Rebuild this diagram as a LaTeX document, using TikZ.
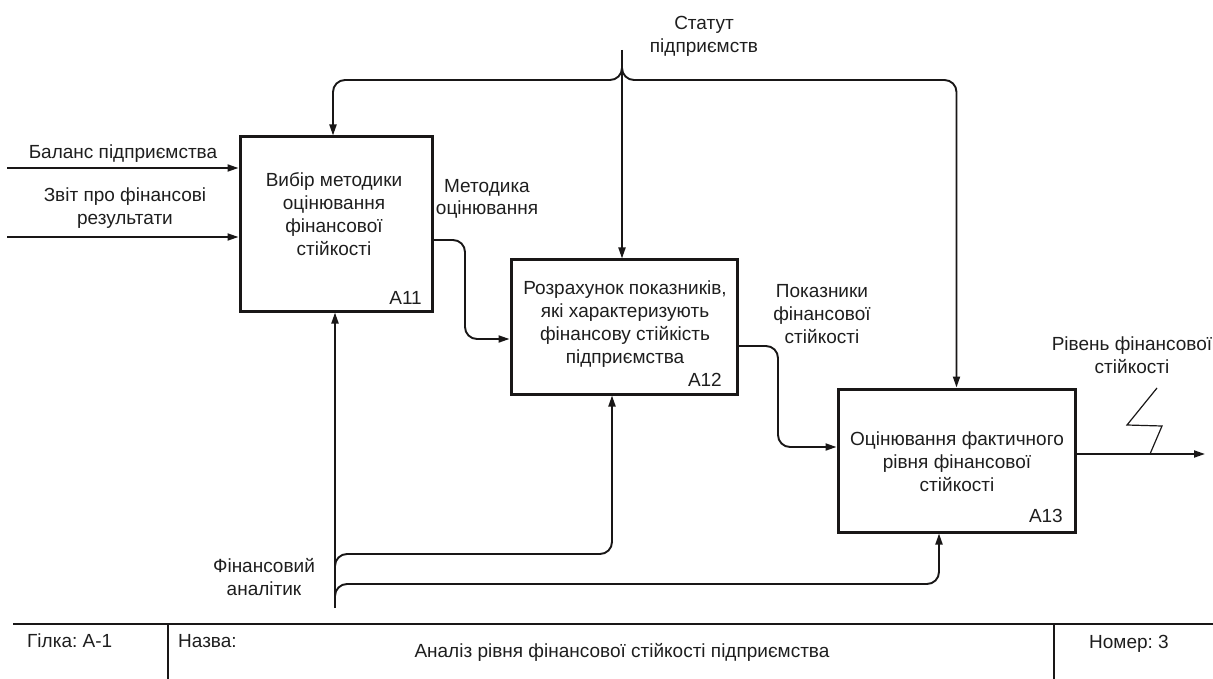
\documentclass[tikz,border=0pt]{standalone}
\usepackage{fontspec}
\setmainfont{Liberation Sans}
\usetikzlibrary{arrows.meta}
\definecolor{ink}{RGB}{25,23,23}
\definecolor{txt}{RGB}{30,30,30}
\newcommand{\lbfont}{\fontsize{19}{23}\selectfont\frenchspacing}
\begin{document}
\begin{tikzpicture}[x=1pt,y=-1pt,
  lbl/.style={font=\lbfont, align=center, inner sep=0pt, anchor=base, text=txt},
  tag/.style={font=\lbfont, inner sep=0pt, anchor=base east, text=txt},
  box/.style={draw=ink, line width=3pt, rectangle, inner sep=0pt},
  flow/.style={draw=ink, line width=1.9pt, rounded corners=12pt,
    -{Triangle[length=11pt,width=7pt]}},
  bolt/.style={draw=ink, line width=1.2pt},
  frame/.style={draw=ink, line width=2.4pt}]
\useasboundingbox (0,0) rectangle (1213,679);

% activity boxes
\node[box, minimum width=192pt, minimum height=174pt] (A11) at (336,224) {};
\node[box, minimum width=226pt, minimum height=134pt] (A12) at (624,327) {};
\node[box, minimum width=237pt, minimum height=143pt] (A13) at (956.5,460.5) {};

% box texts (anchored at the baseline of their last line)
\node[lbl] (t11) at (334,255) {Вибір методики\\оцінювання\\фінансової\\стійкості};
\node[tag] (n11) at (422,304) {A11};
\node[lbl] (t12) at (625,363) {Розрахунок показників,\\які характеризують\\фінансову стійкість\\підприємства};
\node[tag] (n12) at (722,386) {A12};
\node[lbl] (t13) at (957,491) {Оцінювання фактичного\\рівня фінансової\\стійкості};
\node[tag] (n13) at (1063,522) {A13};

% inputs
\coordinate (in1) at (7,168);
\coordinate (in2) at (7,237);
\draw[flow] (in1) -- (in1 -| A11.west);
\draw[flow] (in2) -- (in2 -| A11.west);
\node[lbl] (l1) at (123,159) {Баланс підприємства};
\node[lbl] (l2) at (125,225) {Звіт про фінансові\\результати};

% control: statute, split into three
\coordinate (st) at (622,50);
\coordinate (sj) at (622,60);
\coordinate (sbus) at (622,80);
\draw[flow] (st) -- (st |- A12.north);
\draw[flow] (sj) -- (sbus) -- (sbus -| 333,0) -- (333,0 |- A11.north);
\draw[flow] (sj) -- (sbus) -- (sbus -| A13.north) -- (A13.north);
\node[lbl] (l3) at (704,53) {Статут\\підприємств};

% output A11 -> A12
\coordinate (k1) at (465,240);
\coordinate (k2) at (465,339);
\draw[flow] (k1 -| A11.east) -- (k1) -- (k2) -- (k2 -| A12.west);
\node[lbl] (l4) at (487,215) {Методика\\оцінювання};

% output A12 -> A13
\coordinate (k3) at (778,346);
\coordinate (k4) at (778,447);
\draw[flow] (k3 -| A12.east) -- (k3) -- (k4) -- (k4 -| A13.west);
\node[lbl] (l5) at (822,343) {Показники\\фінансової\\стійкості};

% final output
\coordinate (out) at (1205,454);
\draw[flow] (out -| A13.east) -- (out);
\coordinate (zz) at (1150,454);
\draw[bolt] (1157,388) -- (1127,425) -- (1162,426) -- (zz);
\node[lbl] (l6) at (1132,373) {Рівень фінансової\\стійкості};

% mechanism: analyst, split into three
\coordinate (mech) at (335,608);
\coordinate (mb1) at (335,566);
\coordinate (mk1) at (612,554);
\coordinate (mb2) at (335,597);
\coordinate (mk2) at (939,584);
\draw[flow] (mech) -- (mech |- A11.south);
\draw[flow] (mb1) -- (mb1 |- mk1) -- (mk1) -- (mk1 |- A12.south);
\draw[flow] (mb2) -- (mb2 |- mk2) -- (mk2) -- (mk2 |- A13.south);
\node[lbl] (l7) at (264,595) {Фінансовий\\аналітик};

% title strip
\coordinate (fl) at (13,624);
\coordinate (fr) at (1213,624);
\coordinate (d1) at (168,624);
\coordinate (d2) at (1054,624);
\draw[frame] (fl) -- (fr);
\draw[frame] (d1) -- (d1 |- 0,679);
\draw[frame] (d2) -- (d2 |- 0,679);
\node[lbl, anchor=base west] (f1) at (27,647) {Гілка: А-1};
\node[lbl, anchor=base west] (f2) at (178,647) {Назва:};
\node[lbl] (f3) at (622,657) {Аналіз рівня фінансової стійкості підприємства};
\node[lbl, anchor=base west] (f4) at (1089,648) {Номер: 3};
\end{tikzpicture}
\end{document}
